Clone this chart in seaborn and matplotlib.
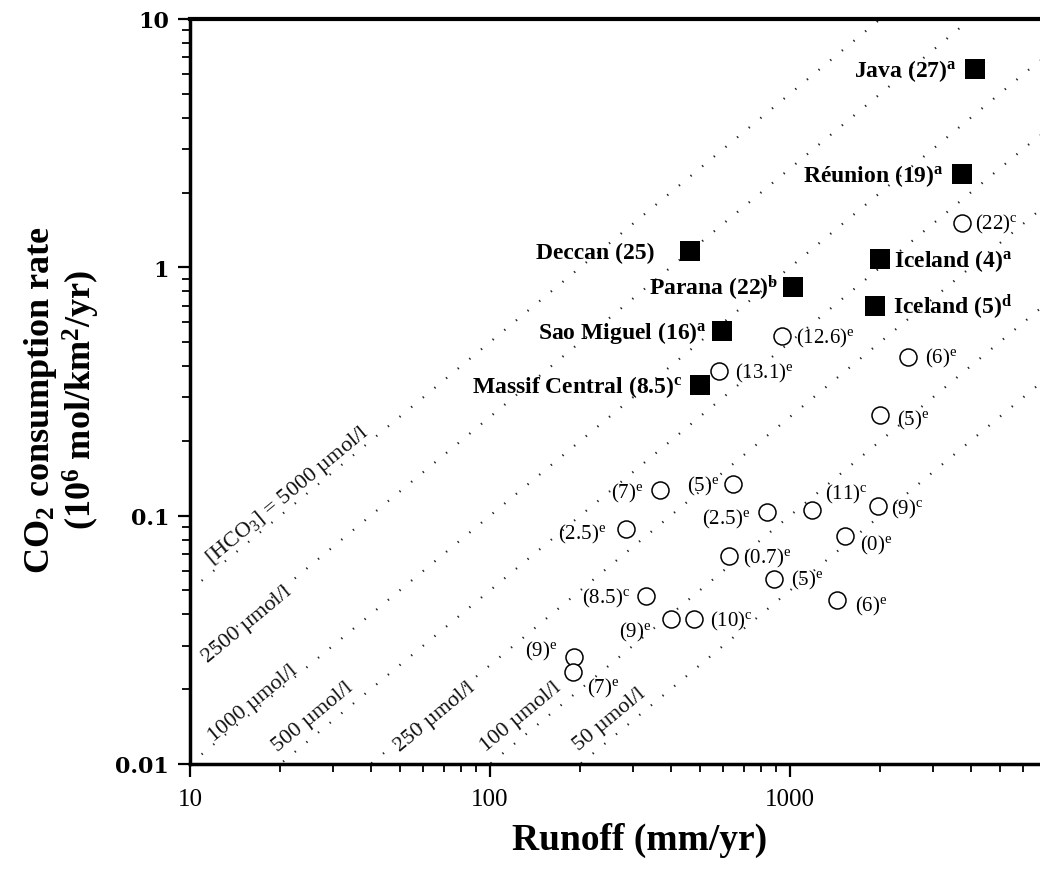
import numpy as np
import pandas as pd
import matplotlib
matplotlib.use("Agg")
import matplotlib.pyplot as plt
import seaborn as sns
from matplotlib.ticker import LogLocator, NullFormatter

# ---------------- data ----------------
volc_names = ["Java (27)", "Réunion (19)", "Deccan (25)", "Iceland (4)",
              "Parana (22)", "Iceland (5)", "Sao Miguel (16)", "Massif Central (8.5)"]
volc_refs = ["a", "a", "", "a", "b", "d", "a", "c"]
volc_runoff = [4140, 3740, 464, 1995, 1023, 1920, 593, 501]
volc_co2 = [6.3, 2.38, 1.16, 1.08, 0.83, 0.70, 0.554, 0.336]

other_names = ["(22)", "(12.6)", "(13.1)", "(6)", "(5)", "(7)", "(5)", "(2.5)", "(2.5)",
               "(11)", "(9)", "(0)", "(0.7)", "(5)", "(6)", "(8.5)", "(9)", "(10)", "(9)", "(7)"]
other_refs = ["c", "e", "e", "e", "e", "e", "e", "e", "e",
              "c", "c", "e", "e", "e", "e", "c", "e", "c", "e", "e"]
other_runoff = [3740, 940, 580, 2470, 1995, 369, 646, 284, 838,
                1184, 1965, 1525, 626, 885, 1435, 331, 401, 479, 190, 189]
other_co2 = [1.51, 0.528, 0.382, 0.436, 0.254, 0.127, 0.134, 0.0883, 0.1034,
             0.105, 0.109, 0.083, 0.0688, 0.0556, 0.0457, 0.0474, 0.0384, 0.0382, 0.027, 0.0234]

hco3_conc = [5000, 2500, 1000, 500, 250, 100, 50]
hco3_labels = ["[HCO$_3$] = 5000 µmol/l", "2500 µmol/l", "1000 µmol/l", "500 µmol/l",
               "250 µmol/l", "100 µmol/l", "50 µmol/l"]
hco3_label_x = [21.2, 15.5, 16.2, 25.7, 65.6, 127, 251]
hco3_label_y = [0.122, 0.0366, 0.0177, 0.0156, 0.0155, 0.0155, 0.0152]

x_ticks = [10, 100, 1000]
x_ticklabels = ["10", "100", "1000"]
y_ticks = [0.01, 0.1, 1, 10]
y_ticklabels = ["0.01", "0.1", "1", "10"]

# ---------------- label styling (pixel offsets) ----------------
volc_off = [(-18, 0, "right"), (-18, 0, "right"), (-35, 0, "right"), (14, 0, "left"),
            (-15, 0, "right"), (18, 0, "left"), (-15, 0, "right"), (-17, 0, "right")]
other_off = [(13, 0, "left"), (14, 0, "left"), (16, 0, "left"), (17, 0, "left"),
             (17, 3, "left"), (-17, 2, "right"), (-14, 0, "right"), (-20, 3, "right"),
             (-17, 5, "right"), (13, -18, "left"), (13, 1, "left"), (15, 8, "left"),
             (14, 0, "left"), (17, 0, "left"), (18, 4, "left"), (-16, 0, "right"),
             (-19, 12, "right"), (16, 0, "left"), (-16, -7, "right"), (14, 14, "left")]

# ---------------- style ----------------
sns.set_style("ticks")
plt.rcParams["font.family"] = ["Liberation Serif", "DejaVu Serif"]
plt.rcParams["mathtext.fontset"] = "custom"
plt.rcParams["mathtext.rm"] = "Liberation Serif"
plt.rcParams["mathtext.it"] = "Liberation Serif:italic"
plt.rcParams["mathtext.bf"] = "Liberation Serif:bold"
plt.rcParams["text.color"] = "black"
plt.rcParams["axes.edgecolor"] = "black"
plt.rcParams["xtick.color"] = "black"
plt.rcParams["ytick.color"] = "black"

fig = plt.figure(figsize=(10.4, 8.79), dpi=100)
ax = fig.add_axes([190 / 1040, 1 - 765 / 879, 850 / 1040, 745 / 879])
ax.set_xscale("log")
ax.set_yscale("log")
xmax = 10 ** (1 + 850 / 300)
ax.set_xlim(10, xmax)
ax.set_ylim(0.01, 10)

# iso-concentration lines: flux = runoff * [HCO3] * 1e-6
rows = []
for c in hco3_conc:
    for r in (10.0, xmax):
        rows.append({"conc": c, "runoff": r, "co2": r * c * 1e-6})
lines_df = pd.DataFrame(rows)
sns.lineplot(data=lines_df, x="runoff", y="co2", units="conc", estimator=None,
             color="#222222", linewidth=1.6, linestyle=(0, (0.6, 6.2)), ax=ax,
             legend=False, zorder=1)

# line labels
p0 = ax.transData.transform((10, 10 * 1000e-6))
p1 = ax.transData.transform((100, 100 * 1000e-6))
angle = np.degrees(np.arctan2(p1[1] - p0[1], p1[0] - p0[0]))
for lab, lx, ly in zip(hco3_labels, hco3_label_x, hco3_label_y):
    ax.text(lx, ly, lab, rotation=angle, ha="center", va="center",
            fontsize=16, color="#111111", zorder=2)

# points
sns.scatterplot(x=other_runoff, y=other_co2, marker="o", s=150, facecolor="white",
                edgecolor="black", linewidth=1.1, ax=ax, zorder=3, legend=False)
sns.scatterplot(x=volc_runoff, y=volc_co2, marker="s", s=215, color="black",
                edgecolor="black", linewidth=0, ax=ax, zorder=4, legend=False)

base_shift = -7
for n, ref, x, y, (dx, dy, ha) in zip(volc_names, volc_refs, volc_runoff, volc_co2, volc_off):
    s = n + (r"$^{\mathbf{%s}}$" % ref if ref else "")
    ax.annotate(s, (x, y), xytext=(dx, -dy + base_shift), textcoords="offset pixels",
                ha=ha, va="baseline", fontsize=17, fontweight="bold", zorder=5)
for n, ref, x, y, (dx, dy, ha) in zip(other_names, other_refs, other_runoff, other_co2, other_off):
    s = n + r"$^{\mathrm{%s}}$" % ref
    ax.annotate(s, (x, y), xytext=(dx, -dy - 6), textcoords="offset pixels",
                ha=ha, va="baseline", fontsize=15, zorder=5)

# axes styling
ax.spines["right"].set_visible(False)
ax.spines["left"].set_linewidth(2.5)
ax.spines["bottom"].set_linewidth(2.5)
ax.spines["top"].set_linewidth(3)
ax.set_xticks(x_ticks)
ax.set_xticklabels(x_ticklabels, fontsize=18)
ax.set_yticks(y_ticks)
ax.set_yticklabels(y_ticklabels, fontsize=16, fontweight="bold", family="DejaVu Serif")
ax.xaxis.set_minor_locator(LogLocator(base=10, subs=np.arange(2, 10)))
ax.yaxis.set_minor_locator(LogLocator(base=10, subs=np.arange(2, 10)))
ax.xaxis.set_minor_formatter(NullFormatter())
ax.yaxis.set_minor_formatter(NullFormatter())
ax.tick_params(which="major", direction="out", length=9, width=1.6, pad=8)
ax.tick_params(which="minor", direction="out", length=6, width=1.3)
ax.tick_params(axis="y", which="major", pad=6)
ax.set_xlabel("")
ax.set_ylabel("")

fig.text(640 / 1040, 1 - 840 / 879, "Runoff (mm/yr)", ha="center", va="center",
         fontsize=27, fontweight="bold")
fig.text(62 / 1040, 1 - 400 / 879, "CO$_\\mathbf{2}$ consumption rate\n(10$^\\mathbf{6}$ mol/km$^\\mathbf{2}$/yr)",
         ha="center", va="center", rotation=90, multialignment="center",
         fontsize=26, fontweight="bold", linespacing=1.05)

fig.savefig("out.png", dpi=100)
